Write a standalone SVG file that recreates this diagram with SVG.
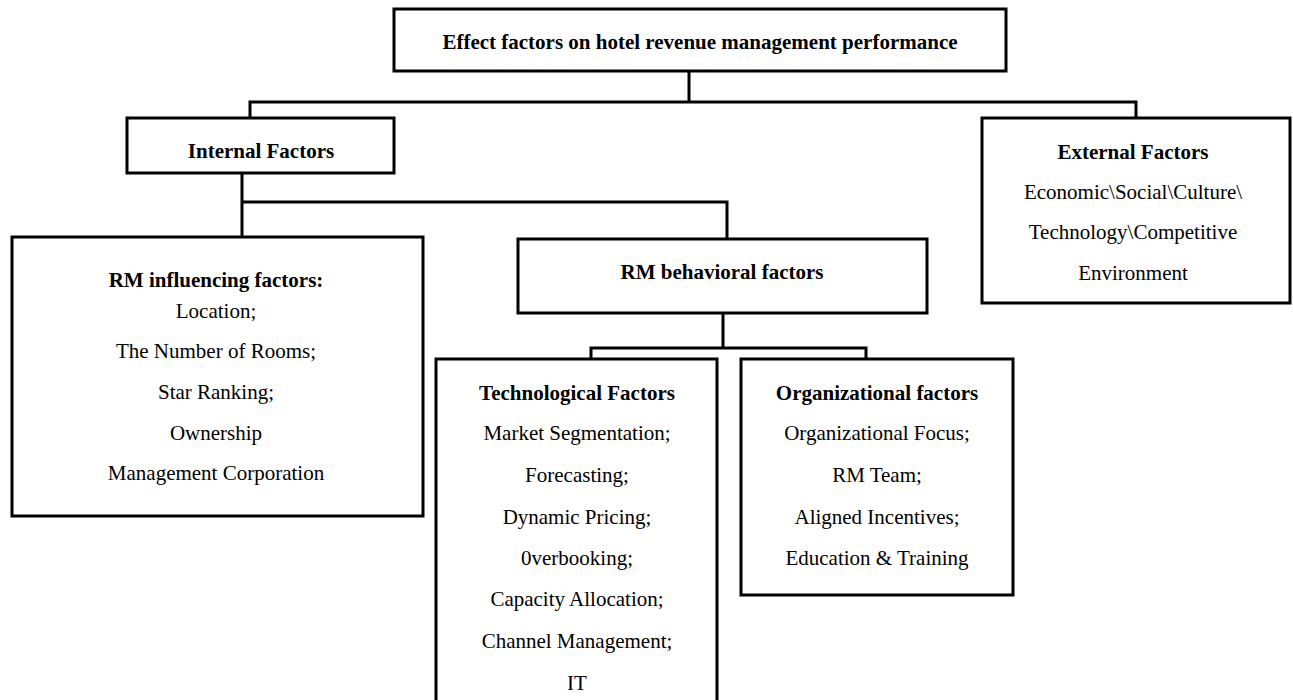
<svg xmlns="http://www.w3.org/2000/svg" width="1293" height="700" viewBox="0 0 1293 700">
<style>
.box{fill:#fff;stroke:#000;stroke-width:3}
.con{fill:none;stroke:#000;stroke-width:3}
text{font-family:"Liberation Serif","Times New Roman",serif;font-size:21px;fill:#000;text-anchor:middle}
.b{font-weight:bold}
</style>
<rect width="1293" height="700" fill="#fff"/>
<g id="connectors">
<path class="con" d="M689,71 V102"/>
<path class="con" d="M250,118 V102 H1136 V118"/>
<path class="con" d="M242,173 V237"/>
<path class="con" d="M242,202 H727 V239"/>
<path class="con" d="M723,313 V349"/>
<path class="con" d="M591,358 V348 H866 V358"/>
</g>
<g id="top">
<rect class="box" x="394" y="9" width="612" height="62"/>
<text class="b" x="700" y="49">Effect factors on hotel revenue management performance</text>
</g>
<g id="internal">
<rect class="box" x="127" y="118" width="267" height="55"/>
<text class="b" x="261" y="158">Internal Factors</text>
</g>
<g id="external">
<rect class="box" x="982" y="118" width="308" height="185"/>
<text class="b" x="1133" y="159">External Factors</text>
<text x="1133" y="199">Economic\Social\Culture\</text>
<text x="1133" y="239">Technology\Competitive</text>
<text x="1133" y="280">Environment</text>
</g>
<g id="influencing">
<rect class="box" x="12" y="237" width="411" height="279"/>
<text class="b" x="216" y="287">RM influencing factors:</text>
<text x="216" y="318">Location;</text>
<text x="216" y="358">The Number of Rooms;</text>
<text x="216" y="399">Star Ranking;</text>
<text x="216" y="440">Ownership</text>
<text x="216" y="480">Management Corporation</text>
</g>
<g id="behavioral">
<rect class="box" x="518" y="239" width="409" height="74"/>
<text class="b" x="722" y="279">RM behavioral factors</text>
</g>
<g id="technological">
<rect class="box" x="436" y="359" width="281" height="345"/>
<text class="b" x="577" y="400">Technological Factors</text>
<text x="577" y="440">Market Segmentation;</text>
<text x="577" y="482">Forecasting;</text>
<text x="577" y="524">Dynamic Pricing;</text>
<text x="577" y="565">0verbooking;</text>
<text x="577" y="606">Capacity Allocation;</text>
<text x="577" y="648">Channel Management;</text>
<text x="577" y="690">IT</text>
</g>
<g id="organizational">
<rect class="box" x="741" y="359" width="272" height="236"/>
<text class="b" x="877" y="400">Organizational factors</text>
<text x="877" y="440">Organizational Focus;</text>
<text x="877" y="482">RM Team;</text>
<text x="877" y="524">Aligned Incentives;</text>
<text x="877" y="565">Education &amp; Training</text>
</g>
</svg>
